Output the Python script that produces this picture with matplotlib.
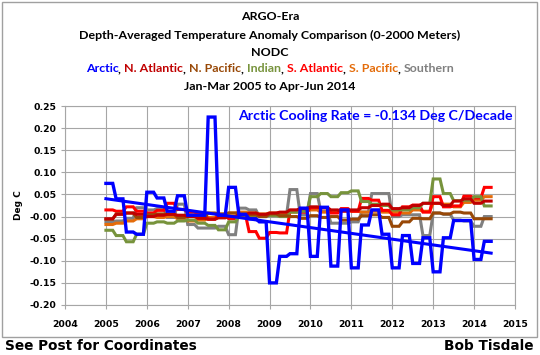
import numpy as np
import matplotlib
matplotlib.use("Agg")
import matplotlib.pyplot as plt
from matplotlib.patches import Rectangle
from matplotlib.offsetbox import TextArea, HPacker, AnnotationBbox

# quarterly anomalies (deg C), Jan-Mar 2005 .. Apr-Jun 2014 (38 quarters)
arctic = [0.075, 0.040, -0.035, -0.040, 0.055, 0.042, 0.012, 0.047, 0.003, 0.003,
          0.225, 0.003, 0.066, 0.005, -0.005, -0.012, -0.150, -0.090, -0.084, 0.019,
          -0.090, 0.021, -0.112, 0.015, -0.116, -0.019, 0.015, -0.040, -0.116, -0.043,
          -0.106, -0.048, -0.125, -0.048, -0.009, -0.009, -0.097, -0.056]
n_atlantic = [-0.005, 0.005, 0.008, 0.005, 0.000, 0.003, 0.005, 0.003, 0.000, -0.004,
              -0.006, -0.003, 0.000, 0.004, 0.008, 0.005, 0.008, 0.010, 0.015, 0.018,
              0.022, 0.020, 0.015, 0.012, 0.015, 0.020, 0.025, 0.028, 0.018, 0.020,
              0.025, 0.030, 0.030, 0.025, 0.035, 0.040, 0.030, 0.035]
n_pacific = [-0.006, 0.006, 0.008, -0.002, 0.004, 0.006, 0.005, -0.002, 0.003, -0.002,
             0.008, 0.006, 0.008, 0.006, 0.004, 0.000, 0.006, 0.002, 0.000, -0.004,
             0.002, -0.002, 0.000, -0.008, -0.006, 0.002, 0.004, -0.002, -0.022, -0.012,
             -0.004, -0.005, 0.008, 0.006, 0.010, 0.008, -0.005, -0.005]
indian = [-0.031, -0.043, -0.057, -0.040, -0.015, -0.012, -0.015, -0.010, -0.008, -0.015,
          -0.020, -0.030, -0.012, 0.002, 0.000, 0.004, 0.002, 0.000, 0.010, 0.012,
          0.045, 0.052, 0.045, 0.054, 0.058, 0.034, 0.028, 0.025, 0.015, 0.015,
          0.020, 0.030, 0.085, 0.052, 0.036, 0.037, 0.045, 0.024]
s_atlantic = [0.015, 0.012, 0.022, 0.012, 0.008, 0.014, 0.030, 0.016, 0.010, 0.005,
              -0.006, 0.004, -0.005, 0.002, -0.034, -0.049, -0.036, -0.037, 0.014, 0.010,
              0.020, 0.020, 0.008, 0.018, 0.012, 0.041, 0.037, 0.014, 0.004, 0.022,
              0.026, 0.010, 0.045, 0.022, 0.024, 0.046, 0.042, 0.066]
s_pacific = [-0.018, -0.015, -0.010, -0.005, 0.000, -0.002, 0.000, -0.005, -0.010, -0.008,
             -0.002, 0.005, 0.008, 0.010, 0.008, 0.006, 0.008, 0.008, 0.010, 0.012,
             0.015, 0.010, 0.012, 0.015, 0.012, 0.010, 0.012, 0.010, 0.010, 0.008,
             0.015, 0.012, 0.030, 0.028, 0.022, 0.032, 0.037, 0.045]
southern = [-0.012, -0.010, -0.004, 0.020, 0.015, 0.018, -0.002, 0.028, -0.018, -0.026,
            -0.026, -0.022, -0.041, 0.019, 0.015, 0.000, 0.002, 0.004, 0.061, 0.004,
            0.052, 0.012, -0.015, -0.015, -0.012, 0.010, 0.052, 0.052, 0.000, 0.004,
            0.004, -0.043, 0.008, 0.005, -0.008, -0.010, -0.022, 0.000]

names = ["Arctic", "N. Atlantic", "N. Pacific", "Indian", "S. Atlantic", "S. Pacific", "Southern"]
colors = ["#0000FF", "#C00000", "#984807", "#77933C", "#FF0000", "#E46C0A", "#808080"]
series = [arctic, n_atlantic, n_pacific, indian, s_atlantic, s_pacific, southern]

# each 3-month value spans its three months
months = np.arange(len(arctic) * 3)
x = 2005 + months / 12.0

fig = plt.figure(figsize=(5.4, 3.55), dpi=100)
fig.patch.set_facecolor("white")
ax = fig.add_axes([65 / 540, 1 - 305 / 355, 450 / 540, 199 / 355])

# others first, Arctic on top
for vals, c in list(zip(series, colors))[::-1]:
    y = np.repeat(vals, 3)
    lw = 2.2 if c != "#0000FF" else 2.4
    ax.plot(x, y, color=c, lw=lw, solid_joinstyle="miter")

arc_y = np.repeat(arctic, 3)
slope, icpt = np.polyfit(x, arc_y, 1)
print("trend per decade", slope * 10)
ax.plot([x[0], x[-1]], [icpt + slope * x[0], icpt + slope * x[-1]], color="#0000FF", lw=2.2)

ax.set_xlim(2004, 2015)
ax.set_ylim(-0.20, 0.25)
ax.set_xticks(range(2004, 2016))
ax.set_yticks(np.arange(-0.20, 0.2501, 0.05))
ax.set_yticklabels([f"{v:.2f}" for v in np.arange(-0.20, 0.2501, 0.05)])
ax.grid(True, color="#A6A6A6", lw=0.8)
ax.set_axisbelow(True)
for sp in ax.spines.values():
    sp.set_color("#A6A6A6")
ax.tick_params(axis="both", length=3, color="#A6A6A6", labelsize=6.7, pad=3)
for lab in ax.get_xticklabels() + ax.get_yticklabels():
    lab.set_fontweight("bold")
ax.tick_params(axis="x", pad=8)
ax.set_ylabel("Deg C", fontsize=6.5, fontweight="bold", labelpad=5)

fig.text(238 / 540, 1 - 116 / 355, "Arctic Cooling Rate = -0.134 Deg C/Decade",
         ha="left", va="center", color="#0000FF", fontsize=10.2, fontweight="bold",
         family="Lato")

tfont = dict(fontsize=8.95, fontweight="bold", family="Lato")
fig.text(0.5, 1 - 17 / 355, "ARGO-Era", ha="center", va="center", **tfont)
fig.text(0.5, 1 - 35 / 355, "Depth-Averaged Temperature Anomaly Comparison (0-2000 Meters)",
         ha="center", va="center", **tfont)
fig.text(0.5, 1 - 52 / 355, "NODC", ha="center", va="center", **tfont)
fig.text(0.5, 1 - 86 / 355, "Jan-Mar 2005 to Apr-Jun 2014", ha="center", va="center", **tfont)

parts = []
for i, (nm, c) in enumerate(zip(names, colors)):
    parts.append(TextArea(nm, textprops=dict(color=c, **tfont)))
    if i < len(names) - 1:
        parts.append(TextArea(", ", textprops=dict(color="black", **tfont)))
row = HPacker(children=parts, align="baseline", pad=0, sep=0)
ab = AnnotationBbox(row, (0.5, 1 - 69 / 355), xycoords="figure fraction", frameon=False,
                    box_alignment=(0.5, 0.5), pad=0)
fig.add_artist(ab)

fig.add_artist(Rectangle((2 / 540, 1 - 337 / 355), 535 / 540, 335 / 355,
                         transform=fig.transFigure, fill=False, ec="#A0A0A0", lw=1))

ffont = dict(fontsize=9.8, fontweight="bold", family="DejaVu Sans")
fig.text(5 / 540, 1 - 346 / 355, "See Post for Coordinates", ha="left", va="center", **ffont)
fig.text(534 / 540, 1 - 346 / 355, "Bob Tisdale", ha="right", va="center", **ffont)

fig.savefig("out.png", dpi=100)
